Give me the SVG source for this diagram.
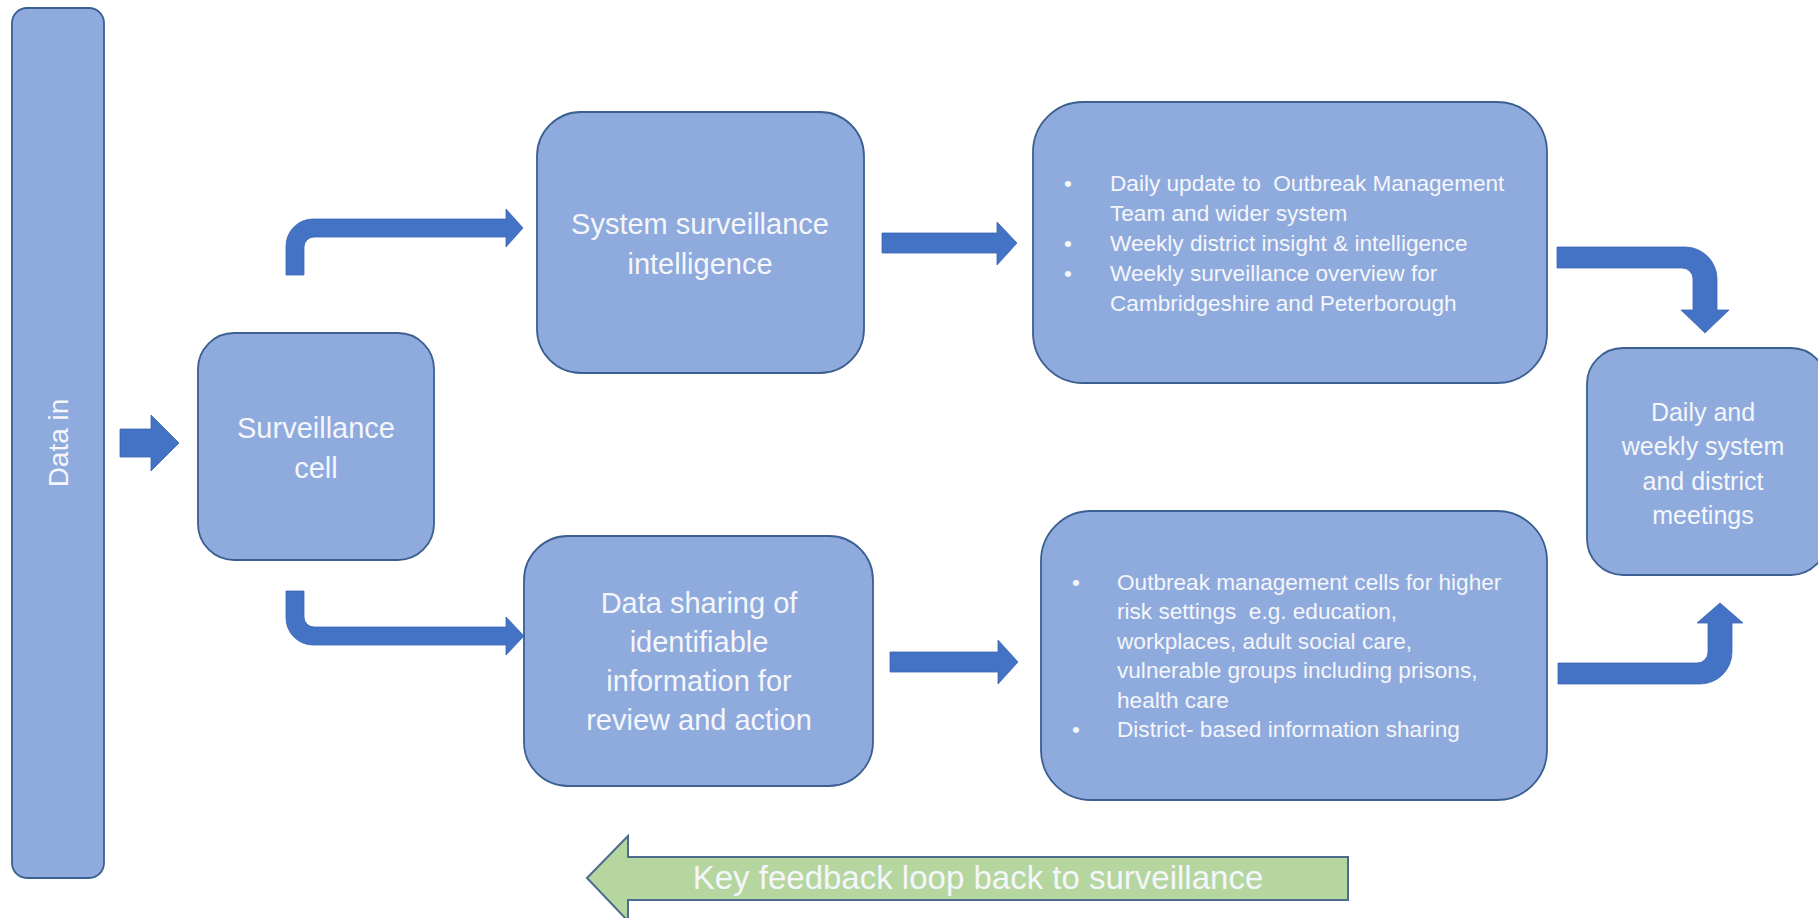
<svg xmlns="http://www.w3.org/2000/svg" width="1818" height="918" viewBox="0 0 1818 918">
<style>
.box{fill:#8faadc;stroke:#3b5f91;stroke-width:1.8}
.arr{fill:#4472c4;stroke:#3a66b5;stroke-width:0.8}
.t{font-family:"Liberation Sans",Arial,sans-serif;fill:#f4f6fb}
.c{text-anchor:middle}
.big{font-size:29px}
.mid{font-size:25px}
.sm{font-size:22.6px}
.fb{fill:#b5d69f;stroke:#4d6b8c;stroke-width:2}
</style>
<rect width="1818" height="918" fill="#ffffff"/>
<g id="connectors">
<path class="arr" d="M120,429 L151,429 L151,415 L179,443 L151,471 L151,457 L120,457 Z"/>
<path class="arr" d="M286,275 L286,246 A27,27 0 0 1 313,219 L506,219 L506,209 L523,228 L506,247 L506,237 L314,237 A10,10 0 0 0 304,247 L304,275 Z"/>
<path class="arr" d="M286,591 L286,618 A27,27 0 0 0 313,645 L506,645 L506,655 L524,636 L506,617 L506,627 L314,627 A10,10 0 0 1 304,617 L304,591 Z"/>
<path class="arr" d="M882,233 L997,233 L997,222 L1017,243 L997,265 L997,253 L882,253 Z"/>
<path class="arr" d="M890,652 L998,652 L998,640 L1018,662 L998,684 L998,672 L890,672 Z"/>
<path class="arr" d="M1557,247 L1685,247 A32,32 0 0 1 1717,279 L1717,310 L1729,310 L1705,333 L1681,310 L1693,310 L1693,279 A11,11 0 0 0 1682,268 L1557,268 Z"/>
<path class="arr" d="M1558,684 L1700,684 A32,32 0 0 0 1732,652 L1732,623 L1743,623 L1720,603 L1697,623 L1708,623 L1708,652 A11,11 0 0 1 1697,663 L1558,663 Z"/>
</g>
<g id="data-in">
<rect class="box" x="12" y="8" width="92" height="870" rx="15"/>
<text class="t c" font-size="28" transform="translate(58,443) rotate(-90)" x="0" y="10">Data in</text>
</g>
<g id="surveillance-cell">
<rect class="box" x="198" y="333" width="236" height="227" rx="36"/>
<text class="t c big" x="316" y="438">Surveillance</text>
<text class="t c big" x="316" y="478">cell</text>
</g>
<g id="system-surveillance">
<rect class="box" x="537" y="112" width="327" height="261" rx="44"/>
<text class="t c big" x="700" y="234">System surveillance</text>
<text class="t c big" x="700" y="274">intelligence</text>
</g>
<g id="data-sharing">
<rect class="box" x="524" y="536" width="349" height="250" rx="44"/>
<text class="t c big" x="699" y="613">Data sharing of</text>
<text class="t c big" x="699" y="652">identifiable</text>
<text class="t c big" x="699" y="691">information for</text>
<text class="t c big" x="699" y="730">review and action</text>
</g>
<g id="system-outputs">
<rect class="box" x="1033" y="102" width="514" height="281" rx="50"/>
<text class="t c sm" x="1068" y="191">•</text>
<text class="t sm" x="1110" y="191" xml:space="preserve">Daily update to  Outbreak Management</text>
<text class="t sm" x="1110" y="221">Team and wider system</text>
<text class="t c sm" x="1068" y="251">•</text>
<text class="t sm" x="1110" y="251">Weekly district insight &amp; intelligence</text>
<text class="t c sm" x="1068" y="281">•</text>
<text class="t sm" x="1110" y="281">Weekly surveillance overview for</text>
<text class="t sm" x="1110" y="311">Cambridgeshire and Peterborough</text>
</g>
<g id="outbreak-cells">
<rect class="box" x="1041" y="511" width="506" height="289" rx="50"/>
<text class="t c sm" x="1076" y="590">•</text>
<text class="t sm" x="1117" y="590">Outbreak management cells for higher</text>
<text class="t sm" x="1117" y="619" xml:space="preserve">risk settings  e.g. education,</text>
<text class="t sm" x="1117" y="649">workplaces, adult social care,</text>
<text class="t sm" x="1117" y="678">vulnerable groups including prisons,</text>
<text class="t sm" x="1117" y="708">health care</text>
<text class="t c sm" x="1076" y="737">•</text>
<text class="t sm" x="1117" y="737">District- based information sharing</text>
</g>
<g id="meetings">
<rect class="box" x="1587" y="348" width="240" height="227" rx="36"/>
<text class="t c mid" x="1703" y="421">Daily and</text>
<text class="t c mid" x="1703" y="455">weekly system</text>
<text class="t c mid" x="1703" y="490">and district</text>
<text class="t c mid" x="1703" y="524">meetings</text>
</g>
<g id="feedback-loop">
<path class="fb" d="M587,878 L628,836 L628,857 L1348,857 L1348,900 L628,900 L628,921 Z"/>
<text class="t c" font-size="33" x="978" y="889" fill="#f4f8f0">Key feedback loop back to surveillance</text>
</g>
</svg>
